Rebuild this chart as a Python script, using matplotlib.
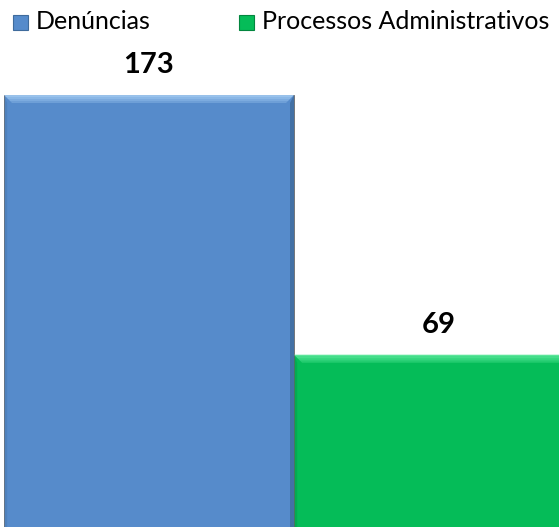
import matplotlib
matplotlib.use('Agg')
from matplotlib import pyplot as plt
from matplotlib import patches as mpatches

plt.rcParams['font.family'] = ['Lato', 'DejaVu Sans']

categories = ['Denúncias', 'Processos Administrativos']
values = [173, 69]
colors = ['#568bcb', '#05bc58']
light = ['#9cc6f0', '#5cea9c']
dark = ['#3f6b9c', '#03863f']

W, H = 559, 527


def shade(ax, x0, w, h, i, bx, by):
    # bevel look: light band on top, darker right edge, faint left edge
    x1 = x0 + w
    steps = 4
    for k in range(steps):
        f0 = k / steps
        f1 = (k + 1) / steps
        band = mpatches.Polygon([(x0 + bx * f0, h - by * f0), (x1 - bx * f0, h - by * f0),
                                 (x1 - bx * f1, h - by * f1), (x0 + bx * f1, h - by * f1)],
                                closed=True, facecolor=light[i], edgecolor='none',
                                alpha=0.95 - 0.2 * k, zorder=3)
        ax.add_patch(band)
    right = mpatches.Polygon([(x1, h), (x1, 0), (x1 - bx * 0.45, 0), (x1 - bx * 0.45, h - by)],
                             closed=True, facecolor=dark[i], edgecolor='none', zorder=3, alpha=0.8)
    left = mpatches.Polygon([(x0, h), (x0 + bx * 0.4, h - by), (x0 + bx * 0.4, 0), (x0, 0)],
                            closed=True, facecolor=dark[i], edgecolor='none', zorder=3, alpha=0.3)
    ax.add_patch(right)
    ax.add_patch(left)


fig = plt.figure(figsize=(W / 100, H / 100), dpi=100)
px_per_unit = 432 / max(values)
ax = fig.add_axes([4 / W, 0, 555 / W, 1])
ax.set_ylim(0, H / px_per_unit)
ax.set_xlim(0, 555 / 290)

bx = 8 / 290
by = 8 / px_per_unit
for i, v in enumerate(values):
    ax.bar(i, v, width=1, align='edge', color=colors[i], edgecolor='#6a6a6a', linewidth=0.6,
           label=categories[i], zorder=2)
    shade(ax, i, 1, v, i, bx, by)
    ax.text(i + 0.5, v + 22 / px_per_unit, str(v), ha='center', va='baseline',
            fontsize=21, fontweight='bold', color='black')

ax.axis('off')

# legend drawn by hand to sit where the original one is
leg_x = [13, 239]
for i, name in enumerate(categories):
    fig.patches.append(mpatches.Rectangle((leg_x[i] / W, 1 - 30 / H), 15 / W, 15 / H,
                                          transform=fig.transFigure, facecolor=colors[i],
                                          edgecolor=dark[i], linewidth=0.8))
    fig.text((leg_x[i] + 23) / W, 1 - 29 / H, name, ha='left', va='baseline',
             fontsize=18, color='black')

fig.savefig('out.png', dpi=100)
